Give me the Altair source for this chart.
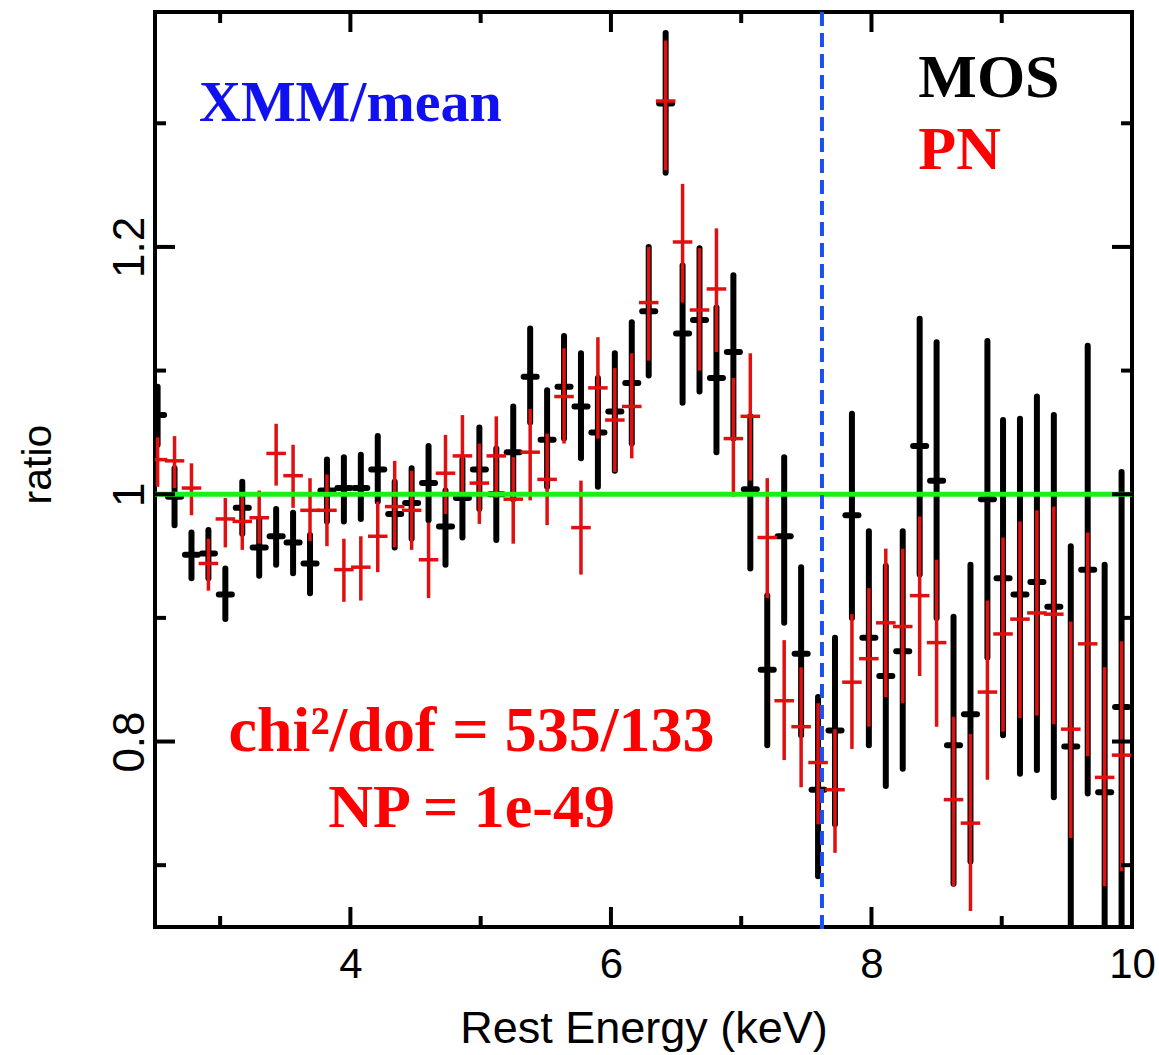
import altair as alt
import pandas as pd

# ---------------- data ----------------
energy = [2.52, 2.65, 2.78, 2.91, 3.04, 3.17, 3.30, 3.43, 3.56, 3.69,
          3.82, 3.95, 4.08, 4.21, 4.34, 4.47, 4.60, 4.73, 4.86, 4.99,
          5.12, 5.25, 5.38, 5.51, 5.64, 5.77, 5.90, 6.03, 6.16, 6.29,
          6.42, 6.55, 6.68, 6.81, 6.94, 7.07, 7.20, 7.33, 7.46, 7.59,
          7.72, 7.85, 7.98, 8.11, 8.24, 8.37, 8.50, 8.63, 8.76, 8.89,
          9.01, 9.14, 9.27, 9.40, 9.53, 9.66, 9.79, 9.92]

mos_ratio = [1.064, 0.998, 0.951, 0.952, 0.919, 0.989, 0.957, 0.966, 0.961, 0.944,
             1.003, 1.005, 1.005, 1.020, 0.984, 0.993, 1.009, 0.974, 0.997, 1.020,
             1.000, 1.034, 1.095, 1.044, 1.087, 1.071, 1.050, 1.067, 1.090, 1.148,
             1.316, 1.130, 1.141, 1.094, 1.115, 1.004, 0.858, 0.966, 0.871, 0.761,
             0.809, 0.983, 0.884, 0.853, 0.873, 1.039, 1.011, 0.797, 0.822, 0.996,
             0.932, 0.919, 0.929, 0.909, 0.796, 0.939, 0.759, 0.828]
mos_lo = [1.040, 0.975, 0.932, 0.932, 0.899, 0.968, 0.934, 0.943, 0.936, 0.920,
          0.978, 0.978, 0.980, 0.994, 0.957, 0.964, 0.979, 0.943, 0.965, 0.988,
          0.963, 0.996, 1.058, 1.006, 1.045, 1.029, 1.006, 1.019, 1.041, 1.096,
          1.260, 1.074, 1.083, 1.034, 1.045, 0.940, 0.797, 0.896, 0.805, 0.691,
          0.733, 0.900, 0.797, 0.764, 0.778, 0.935, 0.900, 0.685, 0.703, 0.868,
          0.805, 0.774, 0.777, 0.755, 0.634, 0.758, 0.575, 0.638]
mos_hi = [1.087, 1.021, 0.969, 0.971, 0.940, 1.010, 0.980, 0.988, 0.985, 0.967,
          1.028, 1.030, 1.032, 1.047, 1.010, 1.021, 1.039, 1.003, 1.028, 1.054,
          1.037, 1.071, 1.134, 1.084, 1.128, 1.114, 1.094, 1.114, 1.139, 1.200,
          1.373, 1.185, 1.199, 1.151, 1.177, 1.063, 0.918, 1.030, 0.941, 0.836,
          0.884, 1.065, 0.970, 0.942, 0.970, 1.142, 1.123, 0.901, 0.943, 1.124,
          1.060, 1.061, 1.079, 1.064, 0.958, 1.120, 0.943, 1.018]

pn_ratio = [1.028, 1.027, 1.005, 0.944, 0.980, 0.978, 0.981, 1.033, 1.015, 0.987,
            0.987, 0.939, 0.941, 0.966, 0.990, 0.987, 0.947, 1.017, 1.031, 1.009,
            1.031, 0.996, 1.034, 1.012, 1.079, 0.973, 1.086, 1.060, 1.071, 1.155,
            1.318, 1.204, 1.149, 1.166, 1.045, 1.063, 0.965, 0.833, 0.812, 0.783,
            0.761, 0.848, 0.867, 0.896, 0.893, 0.918, 0.880, 0.753, 0.734, 0.840,
            0.887, 0.899, 0.904, 0.903, 0.810, 0.879, 0.771, 0.789]
pn_lo = [1.006, 1.005, 0.983, 0.922, 0.957, 0.955, 0.960, 1.007, 0.989, 0.962,
         0.958, 0.913, 0.914, 0.937, 0.957, 0.955, 0.916, 0.984, 1.001, 0.976,
         0.997, 0.960, 0.995, 0.975, 1.041, 0.935, 1.045, 1.018, 1.029, 1.108,
         1.262, 1.155, 1.100, 1.115, 0.998, 1.011, 0.916, 0.785, 0.763, 0.733,
         0.710, 0.794, 0.812, 0.836, 0.831, 0.853, 0.812, 0.683, 0.663, 0.769,
         0.808, 0.819, 0.821, 0.814, 0.722, 0.788, 0.683, 0.695]
pn_hi = [1.046, 1.047, 1.025, 0.964, 0.997, 0.998, 1.003, 1.057, 1.040, 1.013,
         1.016, 0.964, 0.966, 0.994, 1.027, 1.019, 0.977, 1.048, 1.064, 1.041,
         1.063, 1.030, 1.069, 1.049, 1.118, 1.011, 1.127, 1.102, 1.114, 1.200,
         1.367, 1.251, 1.199, 1.215, 1.094, 1.114, 1.013, 0.882, 0.860, 0.831,
         0.810, 0.903, 0.924, 0.956, 0.956, 0.982, 0.947, 0.820, 0.806, 0.914,
         0.965, 0.978, 0.987, 0.990, 0.897, 0.969, 0.860, 0.881]

mos_halfbin = 0.05
pn_halfbin = 0.075
reference_ratio = [1.0]
edge_energy = [7.62]

x_major = [4, 6, 8, 10]
x_minor = [3, 5, 7, 9]
y_major = [0.8, 1.0, 1.2]
y_minor = [0.7, 0.9, 1.1, 1.3]

# ---------------- tables ----------------
df = pd.DataFrame({
    "energy": energy,
    "mos_ratio": mos_ratio, "mos_lo": mos_lo, "mos_hi": mos_hi,
    "pn_ratio": pn_ratio, "pn_lo": pn_lo, "pn_hi": pn_hi,
})
df["mos_xlo"] = df["energy"] - mos_halfbin
df["mos_xhi"] = df["energy"] + mos_halfbin
df["pn_xlo"] = df["energy"] - pn_halfbin
df["pn_xhi"] = df["energy"] + pn_halfbin

W, H = 977, 915
xs = alt.Scale(domain=[2.5, 10], nice=False, zero=False)
ys = alt.Scale(domain=[0.65, 1.39], nice=False, zero=False)

x_axis = alt.Axis(values=x_major, ticks=False, domain=False, grid=False,
                  labelFontSize=42, labelPadding=17, labelFlush=False,
                  title="Rest Energy (keV)", titleFontSize=45,
                  titleBaseline="alphabetic", titleY=115)
y_axis = alt.Axis(values=y_major, ticks=False, domain=False, grid=False, format=".1~f",
                  labelFontSize=44, labelAngle=270, labelAlign="center",
                  labelBaseline="alphabetic", labelPadding=12,
                  title="ratio", titleFontSize=41, titleAngle=270,
                  titleX=-105, titleY=452, titleAlign="center", titleBaseline="alphabetic")


def X(field):
    return alt.X(field, scale=xs, axis=x_axis)


def Y(field):
    return alt.Y(field, scale=ys, axis=y_axis)


base = alt.Chart(df)

mos_bars = base.mark_rule(color="black", strokeWidth=6, strokeCap="round", clip=True).encode(
    x=X("energy:Q"), y=Y("mos_lo:Q"), y2="mos_hi:Q")
mos_ticks = base.mark_rule(color="black", strokeWidth=6, strokeCap="round", clip=True).encode(
    x=X("mos_xlo:Q"), x2="mos_xhi:Q", y=Y("mos_ratio:Q"))
pn_bars = base.mark_rule(color="#e01010", strokeWidth=3.5, clip=True).encode(
    x=X("energy:Q"), y=Y("pn_lo:Q"), y2="pn_hi:Q")
pn_ticks = base.mark_rule(color="#e01010", strokeWidth=3.5, clip=True).encode(
    x=X("pn_xlo:Q"), x2="pn_xhi:Q", y=Y("pn_ratio:Q"))

green = alt.Chart(pd.DataFrame({"ratio": reference_ratio})).mark_rule(
    color="#18f018", strokeWidth=5).encode(y=Y("ratio:Q"))

blue = alt.Chart(pd.DataFrame({"energy": edge_energy})).mark_rule(
    color="#1a50f0", strokeWidth=4, strokeDash=[14, 7]).encode(
    x=X("energy:Q"), y=alt.value(0), y2=alt.value(H + 8))

# inward ticks on all four sides
ymaj = pd.DataFrame({"v": y_major})
ymin = pd.DataFrame({"v": y_minor})
xmaj = pd.DataFrame({"v": x_major})
xmin = pd.DataFrame({"v": x_minor})


def yticks(d, length, side):
    x0, x1 = (0, length) if side == "left" else (W, W - length)
    return alt.Chart(d).mark_rule(color="black", strokeWidth=4).encode(
        y=Y("v:Q"), x=alt.value(x0), x2=alt.value(x1))


def xticks(d, length, side):
    y0, y1 = (H, H - length) if side == "bottom" else (0, length)
    return alt.Chart(d).mark_rule(color="black", strokeWidth=4).encode(
        x=X("v:Q"), y=alt.value(y0), y2=alt.value(y1))


tick_layers = [
    yticks(ymaj, 20, "left"), yticks(ymin, 11, "left"),
    yticks(ymaj, 20, "right"), yticks(ymin, 11, "right"),
    xticks(xmaj, 20, "bottom"), xticks(xmin, 11, "bottom"),
    xticks(xmaj, 20, "top"), xticks(xmin, 11, "top"),
]


def label(text, x, y, size, color, align):
    return alt.Chart(pd.DataFrame({"x": [x], "y": [y], "t": [text]})).mark_text(
        font="Liberation Serif", fontWeight="bold", fontSize=size, color=color,
        align=align, baseline="alphabetic").encode(
        x=X("x:Q"), y=Y("y:Q"), text="t:N")


texts = [
    label("XMM/mean", 4.0, 1.302, 58, "#1010f0", "center"),
    label("MOS", 8.36, 1.321, 62, "black", "left"),
    label("PN", 8.36, 1.263, 62, "#ff0000", "left"),
    label("chi²/dof = 535/133", 4.93, 0.792, 64, "#ff0000", "center"),
    label("NP = 1e-49", 4.93, 0.731, 62, "#ff0000", "center"),
]

chart = alt.layer(
    mos_bars, mos_ticks, pn_bars, pn_ticks, green, blue, *tick_layers, *texts
).properties(
    width=W, height=H,
    padding={"left": 155, "top": 12, "right": 27, "bottom": 128},
    autosize="none",
    background="white",
).configure_view(
    stroke="black", strokeWidth=4
).configure_axis(
    labelFont="Liberation Sans", titleFont="Liberation Sans",
    labelColor="black", titleColor="black", titleFontWeight="normal",
)

chart.save("out.html", embed_options={"renderer": "svg", "actions": False})
